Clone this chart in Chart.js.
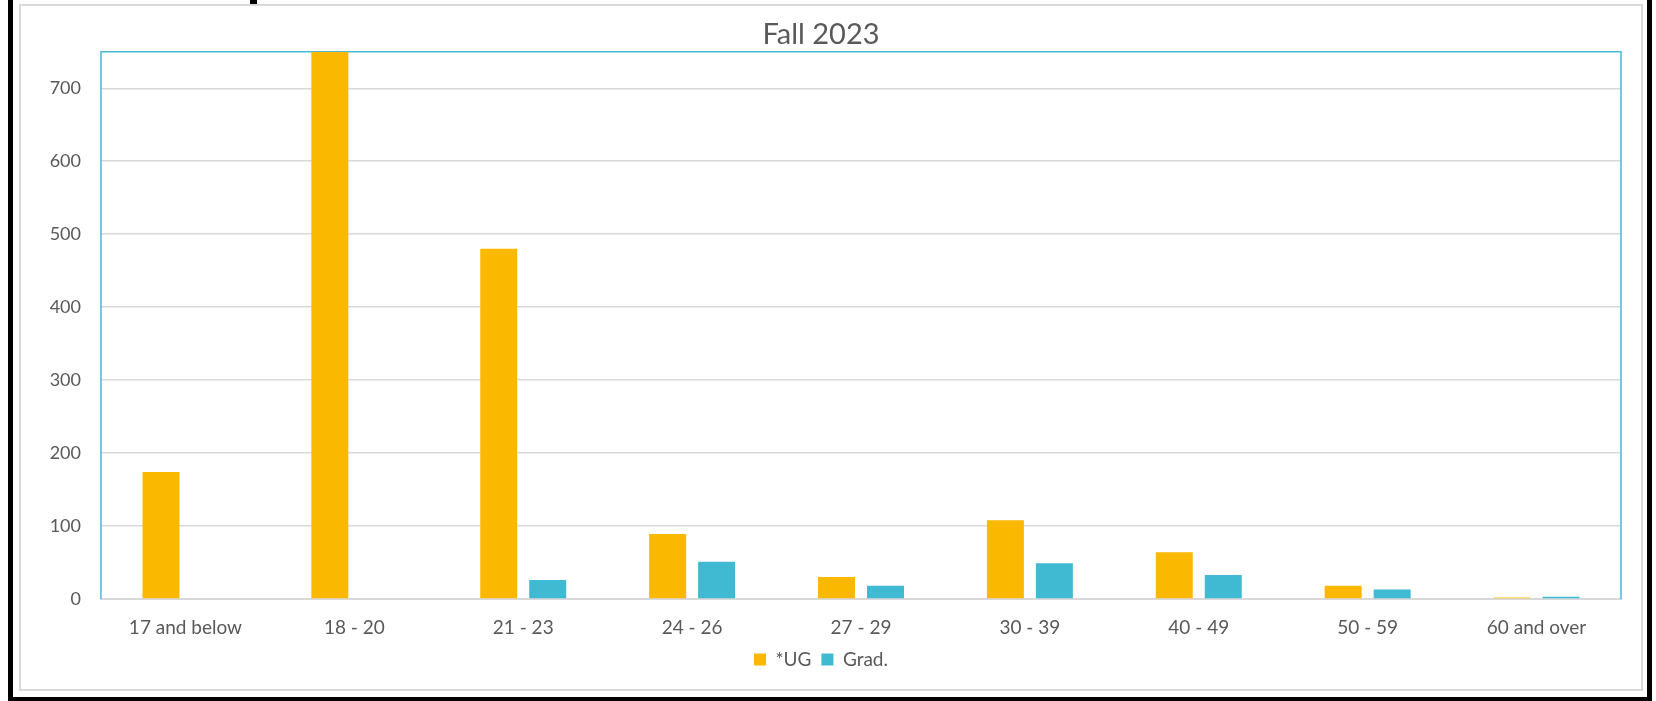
<!DOCTYPE html>
<html>
<head>
<meta charset="utf-8">
<script src="https://cdn.jsdelivr.net/npm/chart.js@4"></script>
<style>
  html, body { margin: 0; padding: 0; background: #fff; }
  body { width: 1656px; height: 701px; position: relative; overflow: hidden; }
  .marco { position: absolute; background: #000; }
  #caja { position: absolute; left: 19px; top: 4px; width: 1620px; height: 683px; border: 2px solid #d9d9d9; }
  #caja canvas { position: absolute; left: 0; top: 0; }
</style>
</head>
<body>
<div class="marco" style="left:8px;top:0;width:5px;height:701px"></div>
<div class="marco" style="left:1647px;top:0;width:5px;height:701px"></div>
<div class="marco" style="left:8px;top:697px;width:1644px;height:4px"></div>
<div class="marco" style="left:250px;top:0;width:7px;height:4px"></div>
<div id="caja"><canvas id="graficoEdades" width="1620" height="683"></canvas></div>
<script>
// Rangos de edad y matrícula por nivel (Fall 2023)
const categorias = ["17 and below", "18 - 20", "21 - 23", "24 - 26", "27 - 29", "30 - 39", "40 - 49", "50 - 59", "60 and over"];
const pregrado = [174, 750, 480, 89, 30, 108, 64, 18, 2];
const posgrado = [0, 0, 26, 51, 18, 49, 33, 13, 3];
const ticksY = [0, 100, 200, 300, 400, 500, 600, 700];

const gris = "#595959";
const fuente = "Lato, 'Open Sans', sans-serif";

// Borde cian arriba, izquierda y derecha del área del gráfico
const bordeArea = {
    id: "bordeArea",
    beforeLayout(chart) {
        // leyenda más baja que la que calcula Chart.js
        if (chart.legend) chart.legend.afterFit = function () { this.height = 38; };
    },
    beforeDatasetsDraw(chart) {
        const { ctx, chartArea: a } = chart;
        ctx.save();
        ctx.strokeStyle = "#44bbd6";
        ctx.lineWidth = 1.5;
        ctx.beginPath();
        ctx.moveTo(a.left, a.bottom);
        ctx.lineTo(a.left, a.top);
        ctx.lineTo(a.right, a.top);
        ctx.lineTo(a.right, a.bottom);
        ctx.stroke();
        ctx.restore();
    }
};

const ctx = document.getElementById("graficoEdades").getContext("2d");
new Chart(ctx, {
    type: "bar",
    data: {
        labels: categorias,
        datasets: [
            { label: "*UG", data: pregrado, backgroundColor: "#fbb800" },
            { label: "Grad.", data: posgrado, backgroundColor: "#40b9d3" }
        ]
    },
    options: {
        responsive: false,
        animation: false,
        categoryPercentage: 0.58,
        barPercentage: 0.755,
        layout: { padding: { left: 0, right: 20, top: 0, bottom: 10 } },
        plugins: {
            title: {
                display: true,
                text: "Fall 2023",
                color: gris,
                font: { family: fuente, size: 29, weight: "normal" },
                padding: { top: 11, bottom: 0 }
            },
            legend: {
                position: "bottom",
                labels: {
                    color: gris,
                    boxWidth: 12,
                    boxHeight: 12,
                    padding: 10,
                    font: { family: fuente, size: 19 }
                }
            },
            tooltip: { enabled: false }
        },
        scales: {
            x: {
                afterFit(scale) { scale.height = 41; },
                grid: { display: false, drawTicks: false },
                border: { color: "#d9d9d9", width: 2 },
                ticks: { color: gris, padding: 17, maxRotation: 0, font: { family: fuente, size: 19 } }
            },
            y: {
                min: 0,
                max: 750,
                afterFit(scale) { scale.width = 80; },
                afterBuildTicks(scale) { scale.ticks = ticksY.map(v => ({ value: v })); },
                grid: { color: "#d9d9d9", lineWidth: 1.5, drawTicks: false },
                border: { display: false },
                ticks: { color: gris, padding: 20, font: { family: fuente, size: 18 } }
            }
        }
    },
    plugins: [bordeArea]
});
</script>
</body>
</html>
